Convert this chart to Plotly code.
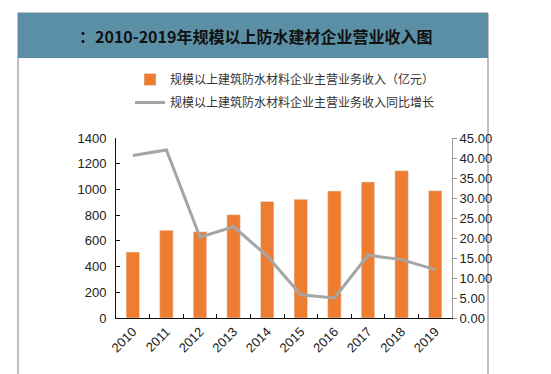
import plotly.graph_objects as go

years = ["2010", "2011", "2012", "2013", "2014", "2015", "2016", "2017", "2018", "2019"]
revenue = [513, 682, 671, 804, 907, 923, 988, 1058, 1146, 990]
growth = [40.6, 42.0, 20.2, 22.8, 15.5, 5.8, 5.0, 15.7, 14.6, 12.1]

title_text = "：2010-2019年规模以上防水建材企业营业收入图"
bar_name = "规模以上建筑防水材料企业主营业务收入（亿元）"
line_name = "规模以上建筑防水材料企业主营业务收入同比增长"

W, H = 551, 374
L, R, T, B = 108, 444, 130, 310


def px(x):
    return (x - L) / (R - L)


def py(y):
    return (B - y) / (B - T)


fig = go.Figure()
fig.add_trace(go.Bar(x=years, y=revenue, name=bar_name, marker_color="#ED7D31",
                     width=0.4, yaxis="y", legendgroup="a"))
fig.add_trace(go.Scatter(x=years, y=growth, name=line_name, mode="lines",
                         line=dict(color="#A5A5A5", width=3), yaxis="y2",
                         legendgroup="b"))

tickfont = dict(family="Liberation Sans, Arial, sans-serif", size=13, color="#222")

fig.update_layout(
    width=W, height=H,
    margin=dict(l=L, r=W - R, t=T, b=H - B, pad=0),
    paper_bgcolor="white", plot_bgcolor="white",
    font=dict(family="Noto Sans CJK SC, sans-serif", color="#333"),
    showlegend=True,
    legend=dict(x=px(122), y=py(57), xanchor="left", yanchor="top",
                font=dict(size=12, color="#333", family="Noto Sans CJK SC, sans-serif"),
                bgcolor="rgba(0,0,0,0)", tracegroupgap=4, itemwidth=30),
    xaxis=dict(type="category", range=[-0.5, 9.5], showline=True, linecolor="#111",
               linewidth=1, ticks="inside", ticklen=4, tickcolor="#111",
               tickson="boundaries", tickangle=-45, tickfont=tickfont, showgrid=False,
               fixedrange=True),
    yaxis=dict(range=[0, 1400], dtick=200, showline=True, linecolor="#111",
               linewidth=1, ticks="inside", ticklen=4, tickcolor="#111",
               tickfont=tickfont, showgrid=False, zeroline=False,
               ticklabelstandoff=6),
    yaxis2=dict(range=[0, 45], dtick=5, tickformat=".2f", overlaying="y", side="right",
                showline=True, linecolor="#999", linewidth=1, ticks="outside",
                ticklen=4, tickcolor="#999", tickfont=tickfont, showgrid=False,
                zeroline=False),
    shapes=[
        dict(type="rect", xref="paper", yref="paper", x0=px(10), x1=px(480),
             y0=py(367), y1=py(5), line=dict(color="#808080", width=1),
             fillcolor="rgba(0,0,0,0)", layer="below"),
        dict(type="rect", xref="paper", yref="paper", x0=px(10), x1=px(480),
             y0=py(50), y1=py(5), line=dict(width=0), fillcolor="#5B8FA5",
             layer="below"),
    ],
    annotations=[
        dict(text="<b>" + title_text + "</b>", xref="paper", yref="paper",
             x=px(247), y=py(28), xanchor="center", yanchor="middle", showarrow=False,
             font=dict(size=16, color="#111", family="Noto Sans CJK SC, sans-serif")),
    ],
)

fig.write_html("out.html")
